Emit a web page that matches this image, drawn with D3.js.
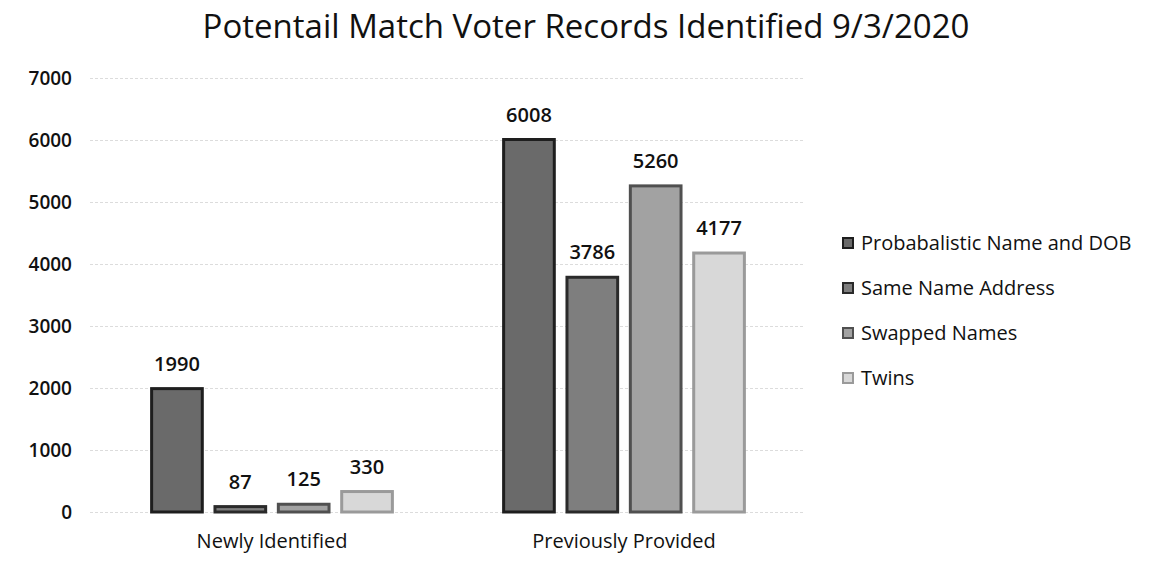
<!DOCTYPE html>
<html>
<head>
<meta charset="utf-8">
<script src="https://cdn.jsdelivr.net/npm/d3@7"></script>
<style>
	body { margin: 0; background: #fff; }
	text { font-family: 'Open Sans', 'Noto Sans', sans-serif; fill: #111; }
</style>
</head>
<body>
<div id="chart"></div>
<script>
// DATA
const categories = ['Newly Identified', 'Previously Provided'];
const seriesNames = ['Probabalistic Name and DOB', 'Same Name Address', 'Swapped Names', 'Twins'];
const newlyIdentified = [1990, 87, 125, 330];
const previouslyProvided = [6008, 3786, 5260, 4177];
const yTickValues = [0, 1000, 2000, 3000, 4000, 5000, 6000, 7000];

const fills = ['#6a6a6a', '#7e7e7e', '#a2a2a2', '#d8d8d8'];
const strokes = ['#1e1e1e', '#2a2a2a', '#505050', '#9a9a9a'];

const width = 1159, height = 564;
const margin = { top: 78, right: 359, bottom: 52, left: 96 };

const rows = categories.map((c, i) => ({
	category: c,
	values: (i === 0 ? newlyIdentified : previouslyProvided).map((v, j) => ({ series: seriesNames[j], value: v, j }))
}));

const svg = d3.select('#chart')
	.append('svg')
	.attr('width', width)
	.attr('height', height);

const x0 = d3.scaleBand()
	.domain(categories)
	.range([margin.left, width - margin.right])
	.paddingInner(0.28)
	.paddingOuter(0.14);

const x1 = d3.scaleBand()
	.domain(seriesNames)
	.range([0, x0.bandwidth()])
	.paddingInner(0.2)
	.paddingOuter(0.1);

const y = d3.scaleLinear()
	.domain([0, 7000])
	.range([height - margin.bottom, margin.top]);

// gridlines
svg.append('g')
	.attr('transform', `translate(${margin.left - 6},0)`)
	.call(d3.axisLeft(y).tickValues(yTickValues).tickSize(-(width - margin.right - margin.left + 10)).tickFormat(''))
	.call(g => g.select('.domain').remove())
	.call(g => g.selectAll('line').attr('stroke', '#dcdcdc').attr('stroke-dasharray', '3,2'));

// y axis labels
svg.append('g')
	.attr('transform', `translate(${margin.left - 24},0)`)
	.call(d3.axisLeft(y).tickValues(yTickValues).tickSize(0).tickPadding(0).tickFormat(d3.format('d')))
	.call(g => g.select('.domain').remove())
	.call(g => g.selectAll('text').style('font-size', '19px').style('font-weight', 600).attr('fill', '#111'));

// bars
const groups = svg.append('g')
	.selectAll('g')
	.data(rows)
	.join('g')
	.attr('transform', d => `translate(${x0(d.category)},0)`);

groups.selectAll('rect')
	.data(d => d.values)
	.join('rect')
	.attr('x', d => x1(d.series))
	.attr('y', d => y(d.value))
	.attr('width', x1.bandwidth())
	.attr('height', d => y(0) - y(d.value))
	.attr('fill', d => fills[d.j])
	.attr('stroke', d => strokes[d.j])
	.attr('stroke-width', 3);

groups.selectAll('text.val')
	.data(d => d.values)
	.join('text')
	.attr('class', 'val')
	.attr('x', d => x1(d.series) + x1.bandwidth() / 2)
	.attr('y', d => y(d.value) - 18)
	.attr('text-anchor', 'middle')
	.style('font-size', '20px')
	.style('font-weight', 600)
	.text(d => d.value);

// category labels
svg.append('g')
	.attr('transform', `translate(0,${height - margin.bottom})`)
	.call(d3.axisBottom(x0).tickSize(0).tickPadding(22))
	.call(g => g.select('.domain').remove())
	.call(g => g.selectAll('text').style('font-size', '20px').attr('fill', '#111'));

// title
svg.append('text')
	.attr('x', 586)
	.attr('y', 38)
	.attr('text-anchor', 'middle')
	.style('font-size', '33px')
	.text('Potentail Match Voter Records Identified 9/3/2020');

// legend
const legend = svg.append('g')
	.attr('transform', 'translate(843,243)')
	.selectAll('g')
	.data(seriesNames)
	.join('g')
	.attr('transform', (d, i) => `translate(0,${i * 45})`);

legend.append('rect')
	.attr('x', 0)
	.attr('y', -5)
	.attr('width', 10)
	.attr('height', 10)
	.attr('fill', (d, i) => fills[i])
	.attr('stroke', (d, i) => strokes[i])
	.attr('stroke-width', 2);

legend.append('text')
	.attr('x', 18)
	.attr('y', 7)
	.style('font-size', '20px')
	.text(d => d);
</script>
</body>
</html>
